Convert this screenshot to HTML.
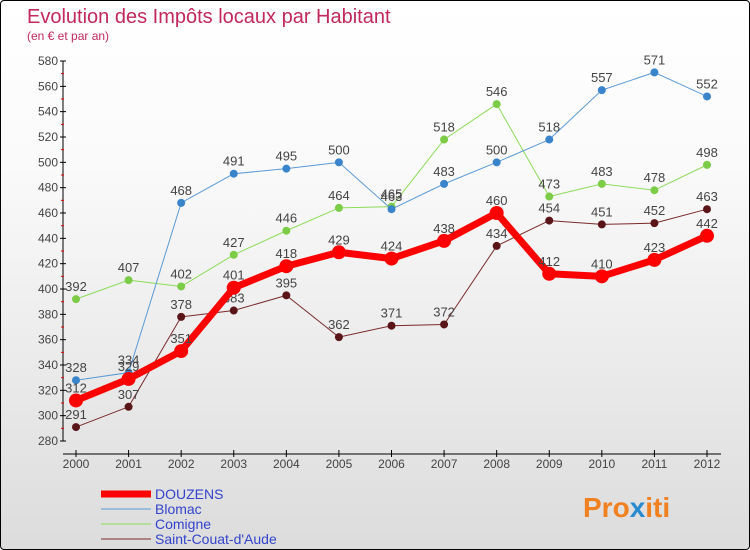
<!DOCTYPE html>
<html><head><meta charset="utf-8"><style>
body{margin:0;}
#wrap{width:748px;height:548px;border:1px solid #000;border-radius:4px;background:linear-gradient(#fff,#fafafa 30%,#dcdcdc);position:relative;overflow:hidden;font-family:"Liberation Sans",sans-serif;}
svg text{font-family:"Liberation Sans",sans-serif;}
</style></head><body>
<div id="wrap">
<svg id="c" width="748" height="548">
<text x="26" y="22" font-size="20" fill="#c2285a">Evolution des Impôts locaux par Habitant</text>
<text x="26" y="39" font-size="12" fill="#c2285a">(en € et par an)</text>
<g id="axes"></g><g id="series"></g><g id="legend"></g>
<text x="582" y="516" font-size="28" font-weight="bold" fill="#f08020">Pro<tspan fill="#2a8ad0">x</tspan>iti</text>
</svg></div>
<script>
const years=[2000,2001,2002,2003,2004,2005,2006,2007,2008,2009,2010,2011,2012];
const yTicks=[280,300,320,340,360,380,400,420,440,460,480,500,520,540,560,580];
const douzens=[312,329,351,401,418,429,424,438,460,412,410,423,442];
const blomac=[328,334,468,491,495,500,463,483,500,518,557,571,552];
const comigne=[392,407,402,427,446,464,465,518,546,473,483,478,498];
const stcouat=[291,307,378,383,395,362,371,372,434,454,451,452,463];
const NS="http://www.w3.org/2000/svg";
function X(i){return 75+i*(706-75)/12;}
function Y(v){return 440-(v-280)*380/300;}
function el(t,a,p){const e=document.createElementNS(NS,t);for(const k in a)e.setAttribute(k,a[k]);p.appendChild(e);return e;}
const ax=document.getElementById('axes');
const ya=el('line',{x1:62,y1:60,x2:62,y2:440,stroke:'#000'},ax);

yTicks.forEach((v,i)=>{
  el('line',{x1:59,y1:Y(v),x2:65,y2:Y(v),stroke:'#000'},ax);
  if(i<yTicks.length-1)el('line',{x1:60,y1:Y(v+10),x2:63,y2:Y(v+10),stroke:'#e00'},ax);
  const t=el('text',{x:57,y:Y(v)+4,'font-size':12,fill:'#444','text-anchor':'end'},ax);t.textContent=v;
  
});
const xa=el('line',{x1:62,y1:453,x2:720,y2:453,stroke:'#000'},ax);

years.forEach((y,i)=>{
  el('line',{x1:X(i),y1:449,x2:X(i),y2:456,stroke:'#000'},ax);
  const t=el('text',{x:X(i),y:467,'font-size':12,fill:'#444','text-anchor':'middle'},ax);t.textContent=y;
  
});
const sg=document.getElementById('series');
function draw(data,color,w,r,name,dot){
  const g=el('g',{},sg);
  
  el('polyline',{points:data.map((v,i)=>X(i)+','+Y(v)).join(' '),fill:'none',stroke:color,'stroke-width':w,'stroke-linejoin':'round'},g);
  data.forEach((v,i)=>{
    const c=el('circle',{cx:X(i),cy:Y(v),r:r,fill:dot},g);
    
    const t=el('text',{x:X(i),y:Y(v)-8,'font-size':13,fill:'#444','text-anchor':'middle'},g);t.textContent=v;
    
  });
}
draw(stcouat,'#7a2a2a',1,4,'saint-couat-series','#5a1518');
draw(comigne,'#8ddc5a',1,4,'comigne-series','#7ccc48');
draw(blomac,'#5a9ad6',1,4,'blomac-series','#3a84cc');
draw(douzens,'#f00',7,7,'douzens-series','#f00');
const lg=document.getElementById('legend');
const items=[['DOUZENS','#f00',7],['Blomac','#5a9ad6',1],['Comigne','#8ddc5a',1],['Saint-Couat-d\'Aude','#7a2a2a',1]];
items.forEach((it,i)=>{
  const y=493+i*15;
  const g=el('g',{},lg);
  
  el('line',{x1:100,y1:y,x2:150,y2:y,stroke:it[1],'stroke-width':it[2]},g);
  const t=el('text',{x:154,y:y+5,'font-size':14,fill:'#3344cc'},g);t.textContent=it[0];
});
</script>
</body></html>
